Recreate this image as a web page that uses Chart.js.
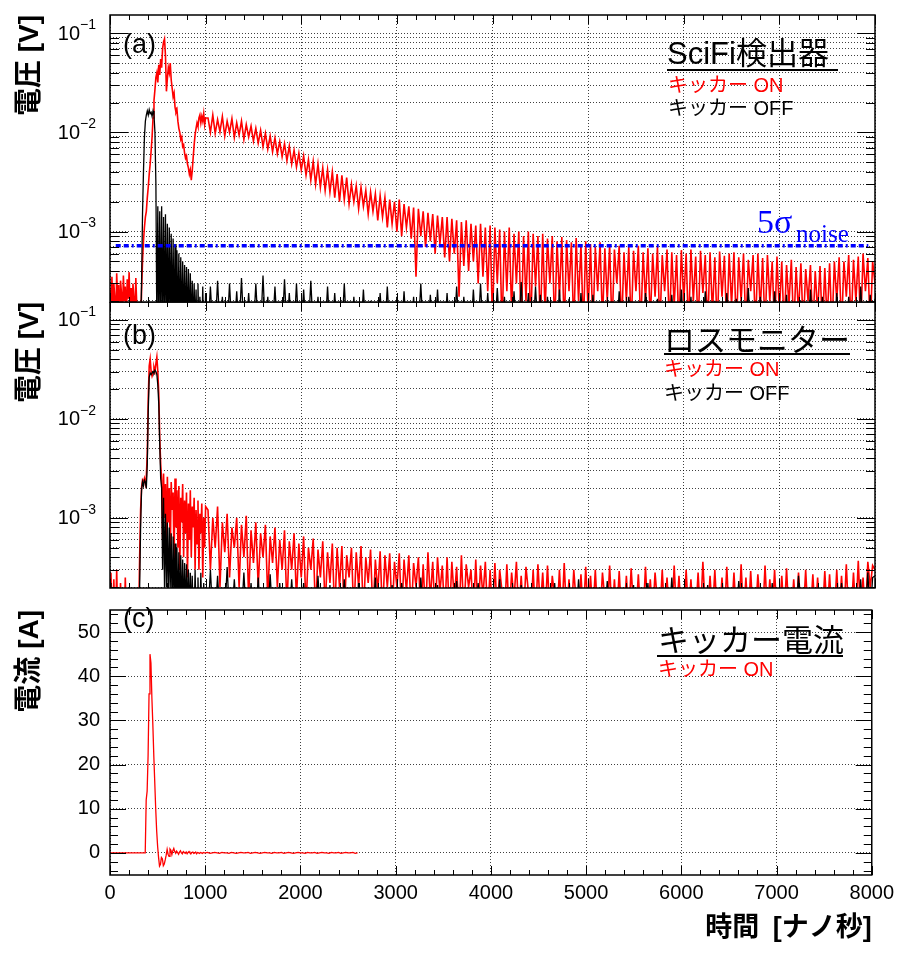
<!DOCTYPE html>
<html>
<head>
<meta charset="utf-8">
<script src="https://cdn.jsdelivr.net/npm/chart.js@4.4.1/dist/chart.umd.min.js"></script>
<style>
  html, body { margin: 0; padding: 0; background: #fff; }
  #wrap { position: relative; width: 900px; height: 954px; }
  canvas { position: absolute; left: 0; }
</style>
</head>
<body>
<div id="wrap">
  <canvas id="panelA" width="900" height="303" style="top:0px"></canvas>
  <canvas id="panelB" width="900" height="287" style="top:302px"></canvas>
  <canvas id="panelC" width="900" height="366" style="top:588px"></canvas>
</div>
<script>
// time axis (ns): 10 ns steps up to 1000, then 25 ns steps up to 8000
const timeFine = Array.from({ length: 101 }, (_, i) => i * 10);
const timeTail = Array.from({ length: 280 }, (_, i) => 1025 + i * 25);
const timeNs = timeFine.concat(timeTail);

// (a) SciFi detector voltage [mV], kicker ON / OFF
const scifiOnMv = [
  0.26,0.1,0.35,0.15,0.3,0.22,0.1,0.38,0.2,0.29,
  0.1,0.32,0.24,0.12,0.36,0.2,0.28,0.1,0.33,0.21,
  0.39,0.15,0.27,0.1,0.3,0.22,0.1,0.34,0.18,0.1,
  0.1,0.1,0.1,0.25,
  0.5,0.8,1.1,1.4,1.6,2.2,2.8,3.8,4.8,6.5,
  9,14,21,27,36,40,32,48,38,55,
  45,70,82,88,60,26,35,45,40,50,
  34,28,23,25,18,16,17,13,11,10,
  8.5,9,7.2,7.5,6.2,5.5,5.8,4.8,4.4,3.8,
  4.2,3.3,4.1,5.6,7.5,9.5,11,12.5,11.5,14,
  15,12.5,14.5,13,15.5,12,14,
  // tail
  14,10,15,9.8,13.5,10.2,14.5,9.2,13,10,13.8,8.9,12.5,9.4,13,8.5,12,9,11.6,8.2,
  11,7.8,10.5,7.2,9.8,6.8,9.2,6.4,8.8,6.1,8.1,5.7,7.7,5.2,7.3,4.8,6.6,4.5,6.2,4.2,
  5.8,3.7,5.3,3.3,5.1,3.0,4.8,2.8,4.4,2.6,4.2,2.5,4.0,2.2,3.8,2.0,3.7,2.1,3.5,1.9,
  3,2,2.9,1.7,2.8,1.8,2.6,1.5,2.5,1.6,2.4,1.3,2.3,1.4,2.2,1.1,2.1,1.2,2,1.0,
  2.1,0.9,1.9,1.1,1.8,0.85,1.75,0.35,1.7,0.9,1.6,0.7,1.55,0.8,1.5,0.6,1.45,0.75,1.4,0.55,
  1.4,0.5,1.35,0.6,1.3,0.22,1.25,0.45,1.3,0.4,1.2,0.5,1.15,0.3,1.2,0.35,1.1,0.25,1.15,0.12,
  1.1,0.3,1.05,0.1,1.0,0.25,1.1,0.15,0.95,0.3,1.0,0.1,0.9,0.2,1.0,0.1,0.95,0.28,0.9,0.1,
  0.95,0.15,0.85,0.3,0.9,0.1,0.8,0.22,0.88,0.1,0.82,0.25,0.78,0.1,0.86,0.2,0.75,0.1,0.8,0.15,
  0.75,0.1,0.7,0.25,0.78,0.12,0.68,0.2,0.74,0.1,0.66,0.3,0.72,0.1,0.62,0.2,0.7,0.1,0.64,0.25,
  0.72,0.1,0.62,0.2,0.68,0.12,0.6,0.22,0.7,0.1,0.58,0.25,0.66,0.1,0.62,0.18,0.58,0.1,0.65,0.2,
  0.6,0.1,0.66,0.2,0.56,0.1,0.64,0.24,0.58,0.1,0.62,0.15,0.55,0.1,0.63,0.22,0.57,0.1,0.6,0.18,
  0.62,0.1,0.55,0.2,0.6,0.1,0.52,0.25,0.58,0.1,0.6,0.16,0.54,0.1,0.58,0.2,0.5,0.1,0.56,0.15,
  0.5,0.1,0.46,0.18,0.52,0.1,0.44,0.15,0.48,0.1,0.42,0.2,0.46,0.1,0.4,0.15,0.45,0.1,0.43,0.12,
  0.48,0.1,0.5,0.2,0.55,0.1,0.5,0.22,0.58,0.1,0.52,0.2,0.56,0.1,0.6,0.25,0.54,0.1,0.5,0.3
];
const scifiOffMv = [
  0.1,0.1,0.1,0.1,0.1,0.1,0.1,0.1,0.1,0.1,
  0.1,0.1,0.1,0.1,0.1,0.1,0.1,0.1,0.1,0.1,
  0.1,0.1,0.1,0.1,0.1,0.1,0.1,0.1,0.1,0.1,
  0.1,0.1,0.1,
  0.3,1.5,4,9,13,15,16.5,15,17,15.5,16,14.5,16.5,15,10,
  3,0.1,1.8,0.1,1.6,0.1,1.8,0.1,1.4,0.1,
  1.5,0.1,1.2,0.1,1.1,0.1,0.95,0.1,0.85,0.1,
  0.75,0.1,0.65,0.1,0.6,0.1,0.55,0.1,0.5,0.1,
  0.46,0.1,0.44,0.1,0.42,0.1,0.38,0.1,0.32,0.1,
  0.3,0.1,0.26,0.1,0.3,0.1,0.22,0.1,0.1,0.28,
  0.1,0.1,0.24,
  // tail
  0.1,0.28,0.1,0.1,0.32,0.1,0.22,0.1,0.1,0.3,0.1,0.1,0.25,0.1,0.34,0.1,0.1,0.24,0.1,0.1,
  0.3,0.1,0.1,0.36,0.1,0.22,0.1,0.1,0.28,0.1,0.1,0.1,0.33,0.1,0.24,0.1,0.1,0.3,0.1,0.1,
  0.26,0.1,0.1,0.32,0.1,0.1,0.22,0.1,0.1,0.1,0.28,0.1,0.1,0.24,0.1,0.1,0.1,0.3,0.1,0.1,
  0.1,0.22,0.1,0.1,0.1,0.26,0.1,0.1,0.2,0.1,0.1,0.1,0.24,0.1,0.1,0.28,0.1,0.1,0.1,0.22,
  0.1,0.1,0.25,0.1,0.1,0.1,0.22,0.1,0.1,0.3,0.1,0.1,0.1,0.23,0.1,0.1,0.26,0.1,0.1,0.1,
  0.24,0.1,0.1,0.1,0.28,0.1,0.1,0.22,0.1,0.1,0.1,0.26,0.1,0.1,0.3,0.1,0.1,0.24,0.1,0.1,
  0.1,0.27,0.1,0.1,0.22,0.1,0.1,0.1,0.25,0.1,0.1,0.31,0.1,0.1,0.24,0.1,0.1,0.28,0.1,0.23,
  0.1,0.1,0.22,0.1,0.1,0.1,0.1,0.26,0.1,0.1,0.1,0.21,0.1,0.1,0.1,0.1,0.24,0.1,0.1,0.1,
  0.1,0.23,0.1,0.1,0.1,0.1,0.1,0.2,0.1,0.1,0.1,0.1,0.25,0.1,0.1,0.1,0.22,0.1,0.1,0.1,
  0.1,0.1,0.1,0.24,0.1,0.1,0.1,0.1,0.21,0.1,0.1,0.1,0.1,0.1,0.23,0.1,0.1,0.1,0.26,0.1,
  0.1,0.1,0.22,0.1,0.1,0.1,0.1,0.1,0.25,0.1,0.1,0.1,0.2,0.1,0.1,0.1,0.1,0.24,0.1,0.1,
  0.1,0.21,0.1,0.1,0.1,0.1,0.27,0.1,0.1,0.1,0.1,0.22,0.1,0.1,0.1,0.1,0.1,0.25,0.1,0.1,
  0.1,0.1,0.23,0.1,0.1,0.1,0.1,0.1,0.2,0.1,0.1,0.1,0.26,0.1,0.1,0.1,0.1,0.22,0.1,0.1,
  0.1,0.1,0.1,0.24,0.1,0.1,0.1,0.1,0.22,0.1,0.1,0.1,0.1,0.28,0.1,0.1,0.1,0.23,0.1,0.21
];
const noiseTimes = [60, 7930];
const noise5SigmaMv = [0.72, 0.72];

// (b) loss monitor voltage [mV], kicker ON / OFF
const lossOnMv = [
  0.1,0.28,0.1,0.1,0.24,0.1,0.1,0.3,0.1,0.1,
  0.1,0.22,0.1,0.1,0.1,0.1,0.25,0.1,0.1,0.1,
  0.1,0.1,0.1,0.1,0.1,0.1,0.1,0.1,0.1,0.1,
  0.1,
  0.4,1.2,2.0,2.4,2.3,2.5,2.2,2.6,4.5,16,
  34,40,30,27,29,33,30,36,42,30,
  18,6.5,3.5,2.4,0.6,2.8,1.0,2.2,0.5,2.6,
  0.9,2.0,0.4,2.3,1.2,1.8,0.35,2.5,0.8,1.9,
  0.5,2.1,0.3,1.6,0.9,2.2,0.4,1.5,0.7,1.8,
  0.25,1.4,0.6,1.9,0.4,1.3,0.8,1.6,0.3,1.2,
  0.55,1.5,0.3,1.1,0.7,1.4,0.25,1.0,0.5,1.3,
  // tail
  1.2,0.3,1.0,0.5,1.3,0.2,0.9,0.45,1.1,0.25,0.8,0.5,1.0,0.2,0.85,0.4,1.05,0.15,0.75,0.35,
  0.9,0.2,0.7,0.4,0.85,0.15,0.65,0.35,0.8,0.2,0.6,0.3,0.75,0.12,0.58,0.3,0.7,0.15,0.55,0.25,
  0.65,0.12,0.5,0.3,0.62,0.1,0.48,0.25,0.58,0.12,0.45,0.22,0.55,0.1,0.5,0.2,0.52,0.1,0.42,0.25,
  0.5,0.1,0.45,0.2,0.52,0.1,0.4,0.22,0.48,0.1,0.38,0.18,0.46,0.1,0.42,0.2,0.44,0.1,0.36,0.2,
  0.44,0.1,0.38,0.18,0.42,0.1,0.35,0.2,0.4,0.1,0.34,0.1,0.45,0.15,0.36,0.1,0.4,0.18,0.33,0.1,
  0.4,0.1,0.36,0.15,0.32,0.1,0.42,0.1,0.34,0.2,0.3,0.1,0.38,0.1,0.33,0.16,0.36,0.1,0.3,0.1,
  0.35,0.1,0.3,0.18,0.1,0.34,0.1,0.28,0.15,0.36,0.1,0.26,0.1,0.32,0.18,0.1,0.3,0.1,0.34,0.12,
  0.28,0.1,0.33,0.1,0.26,0.16,0.1,0.3,0.1,0.35,0.1,0.24,0.1,0.3,0.14,0.1,0.27,0.1,0.32,0.1,
  0.26,0.1,0.3,0.1,0.1,0.28,0.15,0.1,0.33,0.1,0.24,0.1,0.29,0.1,0.1,0.26,0.1,0.31,0.12,0.1,
  0.27,0.1,0.1,0.32,0.1,0.24,0.1,0.28,0.14,0.1,0.3,0.1,0.25,0.1,0.1,0.33,0.1,0.26,0.1,0.1,
  0.3,0.1,0.24,0.1,0.1,0.28,0.1,0.36,0.12,0.1,0.26,0.1,0.3,0.1,0.1,0.25,0.1,0.32,0.1,0.1,
  0.28,0.1,0.1,0.34,0.1,0.25,0.1,0.29,0.1,0.1,0.27,0.13,0.1,0.33,0.1,0.24,0.1,0.3,0.1,0.1,
  0.26,0.1,0.31,0.1,0.1,0.24,0.1,0.28,0.12,0.1,0.3,0.1,0.1,0.27,0.1,0.25,0.1,0.1,0.29,0.1,
  0.27,0.1,0.1,0.3,0.1,0.26,0.1,0.34,0.1,0.1,0.28,0.1,0.37,0.1,0.25,0.1,0.36,0.2,0.33,0.3
];
const lossOffMv = [
  0.22,0.1,0.2,0.1,0.1,0.1,0.1,
  0.1,0.1,0.1,0.1,0.1,0.1,0.1,0.1,0.1,0.1,0.1,0.1,
  0.1,0.1,0.1,0.1,0.1,0.1,0.1,0.1,0.1,0.1,0.1,0.1,
  0.2,0.8,1.9,2.3,2.1,2.4,2.3,2.0,3.5,12,
  26,29,28,29,30,29,31,30,28,22,
  14,5.5,2.5,2.0,0.3,1.6,0.2,1.1,0.2,0.9,
  0.15,0.8,0.2,0.7,0.1,0.65,0.15,0.55,0.1,0.5,
  0.1,0.45,0.1,0.42,0.1,0.38,0.1,0.35,0.1,0.34,
  0.1,0.3,0.1,0.28,0.1,0.26,0.1,0.1,0.3,0.1,
  0.1,0.25,0.1,0.1,0.28,0.1,0.1,0.22,0.1,0.1,
  // tail
  0.1,0.3,0.1,0.1,0.26,0.1,0.1,0.1,0.32,0.1,0.1,0.24,0.1,0.1,0.1,0.28,0.1,0.1,0.22,0.1,
  0.1,0.25,0.1,0.1,0.1,0.1,0.27,0.1,0.1,0.1,0.22,0.1,0.1,0.1,0.1,0.24,0.1,0.1,0.1,0.1,
  0.22,0.1,0.1,0.1,0.1,0.1,0.26,0.1,0.1,0.1,0.1,0.21,0.1,0.1,0.1,0.1,0.1,0.24,0.1,0.1,
  0.1,0.1,0.1,0.22,0.1,0.1,0.1,0.1,0.1,0.1,0.25,0.1,0.1,0.1,0.1,0.1,0.1,0.21,0.1,0.1,
  0.1,0.22,0.1,0.1,0.1,0.1,0.1,0.1,0.1,0.25,0.1,0.1,0.1,0.1,0.1,0.1,0.21,0.1,0.1,0.1,
  0.1,0.1,0.1,0.1,0.23,0.1,0.1,0.1,0.1,0.1,0.1,0.1,0.1,0.22,0.1,0.1,0.1,0.1,0.1,0.1,
  0.1,0.1,0.24,0.1,0.1,0.1,0.1,0.1,0.1,0.1,0.1,0.21,0.1,0.1,0.1,0.1,0.1,0.1,0.1,0.1,
  0.1,0.1,0.1,0.1,0.1,0.22,0.1,0.1,0.1,0.1,0.1,0.1,0.1,0.1,0.1,0.24,0.1,0.1,0.1,0.1,
  0.1,0.1,0.1,0.1,0.1,0.1,0.1,0.23,0.1,0.1,0.1,0.1,0.1,0.1,0.1,0.1,0.1,0.1,0.21,0.1,
  0.1,0.1,0.1,0.1,0.22,0.1,0.1,0.1,0.1,0.1,0.1,0.1,0.1,0.1,0.25,0.1,0.1,0.1,0.1,0.1,
  0.1,0.1,0.1,0.1,0.1,0.1,0.1,0.1,0.1,0.21,0.1,0.1,0.1,0.1,0.1,0.1,0.1,0.1,0.1,0.1,
  0.1,0.1,0.23,0.1,0.1,0.1,0.1,0.1,0.1,0.1,0.1,0.1,0.1,0.1,0.1,0.1,0.22,0.1,0.1,0.1,
  0.1,0.1,0.1,0.1,0.1,0.1,0.1,0.26,0.1,0.1,0.1,0.1,0.1,0.1,0.1,0.1,0.1,0.1,0.1,0.1,
  0.1,0.1,0.1,0.1,0.1,0.22,0.1,0.1,0.1,0.1,0.1,0.1,0.1,0.24,0.1,0.1,0.28,0.1,0.25,0.26
];

// (c) kicker current [A], kicker ON (recorded up to 2600 ns)
const kickerCurrentA = [
  0,0,0,0,0,0,0,0,0,0,0,0,0,0,0,0,0,0,0,0,
  0,0,0,0,0,0,0,0,0,0,0,0,0,0,0,0,0,0,
  12,14,22,36,45,43,35,29,22,16,
  10,5,1.5,-1,-3,-2.6,-1,-1.3,-2.9,-2.5,
  -1.6,-0.5,0.8,-0.3,-0.8,0.9,0.6,-0.4,0.5,1.0,
  0.3,-0.1,0.4,0.1,-0.3,0.2,0.5,0,-0.2,0.3,
  0.1,-0.1,0.2,-0.2,0.1,0.3,0,-0.2,0.1,0.2,
  -0.1,0,0.2,-0.2,0.1,0,-0.1,0.1,0,-0.1,
  0.1,0,0,
  // tail
  0.1,-0.1,0,0.1,0,-0.1,0.1,0,0,-0.1,0.1,0,-0.1,0,0.1,0,0,0.1,-0.1,0,
  0.1,0,-0.1,0,0.1,0,0,-0.1,0.1,0,0,0.1,-0.1,0,0.1,0,-0.1,0,0.1,0,
  0,-0.1,0.1,0,0,0.1,-0.1,0,0.1,0,0,-0.1,0.1,0,0,0.1,-0.1,0,0.1,0,
  0,0.1,-0.1,0
];

const xTickValues = [0, 1000, 2000, 3000, 4000, 5000, 6000, 7000, 8000];

const JP = '"Noto Sans CJK JP", sans-serif';
const LAT = '"Liberation Sans", Arial, sans-serif';
const LATJP = '"Liberation Sans", "Noto Sans CJK JP", sans-serif';
const SERIF = '"Liberation Serif", "Times New Roman", serif';
const GRID = 'rgba(0,0,0,0.75)';

function logTickValues(min, max) {
  const out = [];
  for (let e = Math.floor(Math.log10(min)); e <= Math.ceil(Math.log10(max)); e++) {
    for (let k = 1; k <= 9; k++) {
      const v = k * Math.pow(10, e);
      if (v >= min && v <= max) out.push(v);
    }
  }
  return out;
}

function series(times, values, scale, color, width) {
  return {
    data: times.map((t, i) => ({ x: t, y: values[i] * scale })),
    borderColor: color,
    borderWidth: width,
    pointRadius: 0,
    tension: 0,
    fill: false
  };
}

// ROOT-like frame, inward ticks, log labels and in-pad texts
const rootFrame = {
  id: 'rootFrame',
  afterDraw(chart, args, opts) {
    const { ctx, chartArea: a, scales } = chart;
    const x = scales.x, y = scales.y;
    ctx.save();
    ctx.strokeStyle = '#000';
    ctx.lineWidth = 1;
    ctx.beginPath();
    for (let v = 0; v <= 8000; v += 200) {
      const px = Math.round(x.getPixelForValue(v)) + 0.5;
      const len = v % 1000 === 0 ? 9 : 5;
      ctx.moveTo(px, a.bottom); ctx.lineTo(px, a.bottom - len);
      ctx.moveTo(px, a.top); ctx.lineTo(px, a.top + len);
    }
    opts.yTicks.forEach(t => {
      const py = Math.round(y.getPixelForValue(t.v)) + 0.5;
      ctx.moveTo(a.left, py); ctx.lineTo(a.left + t.len, py);
      ctx.moveTo(a.right, py); ctx.lineTo(a.right - t.len, py);
    });
    ctx.stroke();
    ctx.lineWidth = 1.5;
    ctx.strokeRect(a.left, a.top, a.right - a.left, a.bottom - a.top);

    ctx.fillStyle = '#000';
    (opts.decades || []).forEach(e => {
      const py = y.getPixelForValue(Math.pow(10, e));
      ctx.font = '20px ' + LAT;
      ctx.textAlign = 'right';
      ctx.textBaseline = 'middle';
      ctx.fillText('10', 80, py + 1);
      ctx.font = '14px ' + LAT;
      ctx.textAlign = 'left';
      ctx.fillText('\u2212' + Math.abs(e), 80, py - 8);
    });

    const off = opts.top;
    (opts.texts || []).forEach(t => {
      ctx.font = t.font;
      ctx.fillStyle = t.color || '#000';
      ctx.textAlign = 'left';
      ctx.textBaseline = t.baseline || 'middle';
      ctx.fillText(t.text, t.x, t.y - off);
    });
    (opts.lines || []).forEach(l => {
      ctx.strokeStyle = '#000';
      ctx.lineWidth = 2;
      ctx.beginPath();
      ctx.moveTo(l[0], l[2] - off); ctx.lineTo(l[1], l[2] - off);
      ctx.stroke();
    });
    ctx.restore();
  }
};

function xAxis(showLabels) {
  const ax = {
    type: 'linear', min: 0, max: 8000,
    afterBuildTicks: s => { s.ticks = xTickValues.map(v => ({ value: v })); },
    grid: { color: GRID, lineWidth: 1, drawTicks: false },
    border: { display: false, dash: [1, 2] },
    ticks: { display: false }
  };
  if (showLabels) {
    ax.ticks = { display: true, autoSkip: false, maxRotation: 0, padding: 6, color: '#000',
                 font: { family: LAT, size: 20 }, callback: v => String(v) };
    ax.afterFit = s => { s.height = 79; };
    ax.title = { display: true, text: '時間\u2002[ナノ秒]', align: 'end', color: '#000',
                 font: { family: LATJP, size: 27, weight: 'bold' }, padding: { top: 0, bottom: 9 } };
  } else {
    ax.afterFit = s => { s.height = 0; };
  }
  return ax;
}

function yTitle(text) {
  return { display: true, text: text, align: 'end', color: '#000',
           font: { family: LATJP, size: 28, weight: 'bold' }, padding: { top: 13, bottom: 0 } };
}

function logYAxis(min, max, title) {
  return {
    type: 'logarithmic', min: min, max: max,
    afterBuildTicks: s => { s.ticks = logTickValues(min, max).map(v => ({ value: v })); },
    afterFit: s => { s.width = 110; },
    ticks: { display: false },
    grid: { color: GRID, lineWidth: 1, drawTicks: false },
    border: { display: false, dash: [1, 2] },
    title: yTitle(title)
  };
}

function logTickMarks(min, max) {
  return logTickValues(min, max).map(v => {
    const l = Math.log10(v);
    return { v: v, len: Math.abs(l - Math.round(l)) < 1e-9 ? 18 : 9 };
  });
}

const mV = 1e-3;
const baseOptions = {
  responsive: false,
  animation: false,
  events: [],
  plugins: { legend: { display: false }, tooltip: { enabled: false } }
};

// panel (a)
const aMin = 1.95e-4, aMax = 0.153;
new Chart(document.getElementById('panelA'), {
  type: 'line',
  data: {
    datasets: [
      Object.assign(series(noiseTimes, noise5SigmaMv, mV, '#0000ff', 3.5), { borderDash: [5, 3, 5, 3, 2, 3] }),
      series(timeNs, scifiOffMv, mV, '#000000', 1.3),
      series(timeNs, scifiOnMv, mV, '#ff0000', 1.6)
    ]
  },
  options: Object.assign({}, baseOptions, {
    layout: { padding: { left: 0, right: 25, top: 15, bottom: 1 } },
    scales: { x: xAxis(false), y: logYAxis(aMin, aMax, '電圧 [V]') },
    plugins: Object.assign({}, baseOptions.plugins, {
      rootFrame: {
        top: 0,
        yTicks: logTickMarks(aMin, aMax),
        decades: [-1, -2, -3],
        texts: [
          { text: '(a)', x: 123, y: 46, font: '27px ' + LAT },
          { text: 'SciFi検出器', x: 667, y: 55, font: '31px ' + LATJP },
          { text: 'キッカー ON', x: 668, y: 86, font: '20px ' + LATJP, color: '#ff0000' },
          { text: 'キッカー OFF', x: 668, y: 109, font: '20px ' + LATJP },
          { text: '5σ', x: 757, y: 233, font: '34px ' + SERIF, color: '#0000ff', baseline: 'alphabetic' },
          { text: 'noise', x: 796, y: 242, font: '25px ' + SERIF, color: '#0000ff', baseline: 'alphabetic' }
        ],
        lines: [[667, 838, 70]]
      }
    })
  }),
  plugins: [rootFrame]
});

// panel (b)
const bMin = 1.96e-4, bMax = 0.151;
new Chart(document.getElementById('panelB'), {
  type: 'line',
  data: {
    datasets: [
      series(timeNs, lossOffMv, mV, '#000000', 1.3),
      series(timeNs, lossOnMv, mV, '#ff0000', 1.6)
    ]
  },
  options: Object.assign({}, baseOptions, {
    layout: { padding: { left: 0, right: 25, top: 0, bottom: 1 } },
    scales: { x: xAxis(false), y: logYAxis(bMin, bMax, '電圧 [V]') },
    plugins: Object.assign({}, baseOptions.plugins, {
      rootFrame: {
        top: 302,
        yTicks: logTickMarks(bMin, bMax),
        decades: [-1, -2, -3],
        texts: [
          { text: '(b)', x: 123, y: 337, font: '27px ' + LAT },
          { text: 'ロスモニター', x: 664, y: 339, font: '31px ' + JP },
          { text: 'キッカー ON', x: 664, y: 370, font: '20px ' + LATJP, color: '#ff0000' },
          { text: 'キッカー OFF', x: 664, y: 394, font: '20px ' + LATJP }
        ],
        lines: [[664, 850, 354]]
      }
    })
  }),
  plugins: [rootFrame]
});

// panel (c)
const currentTicks = [];
for (let v = -4; v <= 54; v += 2) currentTicks.push({ v: v, len: v % 10 === 0 ? 16 : 8 });
new Chart(document.getElementById('panelC'), {
  type: 'line',
  data: {
    datasets: [
      series(timeNs.slice(0, kickerCurrentA.length), kickerCurrentA, 1, '#ff0000', 1.3)
    ]
  },
  options: Object.assign({}, baseOptions, {
    layout: { padding: { left: 0, right: 25, top: 0, bottom: 0 } },
    scales: {
      x: xAxis(true),
      y: {
        type: 'linear', min: -5, max: 55,
        afterBuildTicks: s => { s.ticks = [0, 10, 20, 30, 40, 50].map(v => ({ value: v })); },
        afterFit: s => { s.width = 110; },
        ticks: { padding: 10, color: '#000', font: { family: LAT, size: 20 } },
        grid: { color: GRID, lineWidth: 1, drawTicks: false },
        border: { display: false, dash: [1, 2] },
        title: yTitle('電流 [A]')
      }
    },
    plugins: Object.assign({}, baseOptions.plugins, {
      rootFrame: {
        top: 588,
        yTicks: currentTicks,
        texts: [
          { text: '(c)', x: 123, y: 620, font: '27px ' + LAT },
          { text: 'キッカー電流', x: 658, y: 639, font: '31px ' + JP },
          { text: 'キッカー ON', x: 658, y: 670, font: '20px ' + LATJP, color: '#ff0000' }
        ],
        lines: [[657, 843, 656]]
      }
    })
  }),
  plugins: [rootFrame]
});
</script>
</body>
</html>
